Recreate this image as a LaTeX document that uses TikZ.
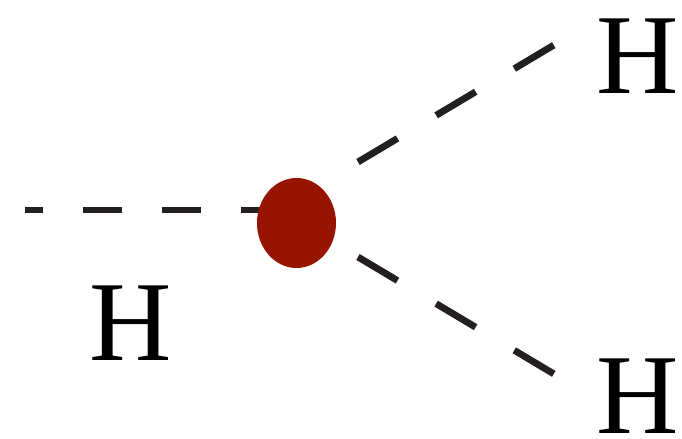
\documentclass[tikz,border=0pt]{standalone}
\usepackage{fontspec}
\setmainfont{Liberation Serif}
\definecolor{dashcol}{HTML}{231F20}
\definecolor{vertexred}{HTML}{961400}
\tikzset{
  scalar/.style={draw=dashcol, line width=3.4pt, line cap=butt},
  hdash/.style={dash pattern=on 19.5pt off 20pt, dash phase=10.5pt},
  ddash/.style={dash pattern=on 23pt off 22.5pt},
  vertex/.style={ellipse, fill=vertexred, minimum width=39.5pt, minimum height=45pt, inner sep=0pt},
  hlabel/.style={font=\fontsize{57}{60}\selectfont, anchor=base, inner sep=0pt, text=black}
}
\usetikzlibrary{shapes.geometric}
\begin{document}
\begin{tikzpicture}[x=0.5pt,y=-0.5pt]
\useasboundingbox (0,0) rectangle (682,439);
% free ends
\coordinate (l0) at (25,210);
\coordinate (l1) at (275,210);
\coordinate (u0) at (358,162);
\coordinate (u1) at (554,45);
\coordinate (d0) at (358,257);
\coordinate (d1) at (554,374);
\draw[scalar,hdash] (l0) -- (l1);
\node[vertex] (v) at (296.5,223) {};
\draw[scalar,ddash] (u0) -- (u1);
\draw[scalar,ddash] (d0) -- (d1);
\node[hlabel] (hleft) at (131,360) {H};
\node[hlabel] (htop) at (637.5,93) {H};
\node[hlabel] (hbot) at (638,433) {H};
\end{tikzpicture}
\end{document}
